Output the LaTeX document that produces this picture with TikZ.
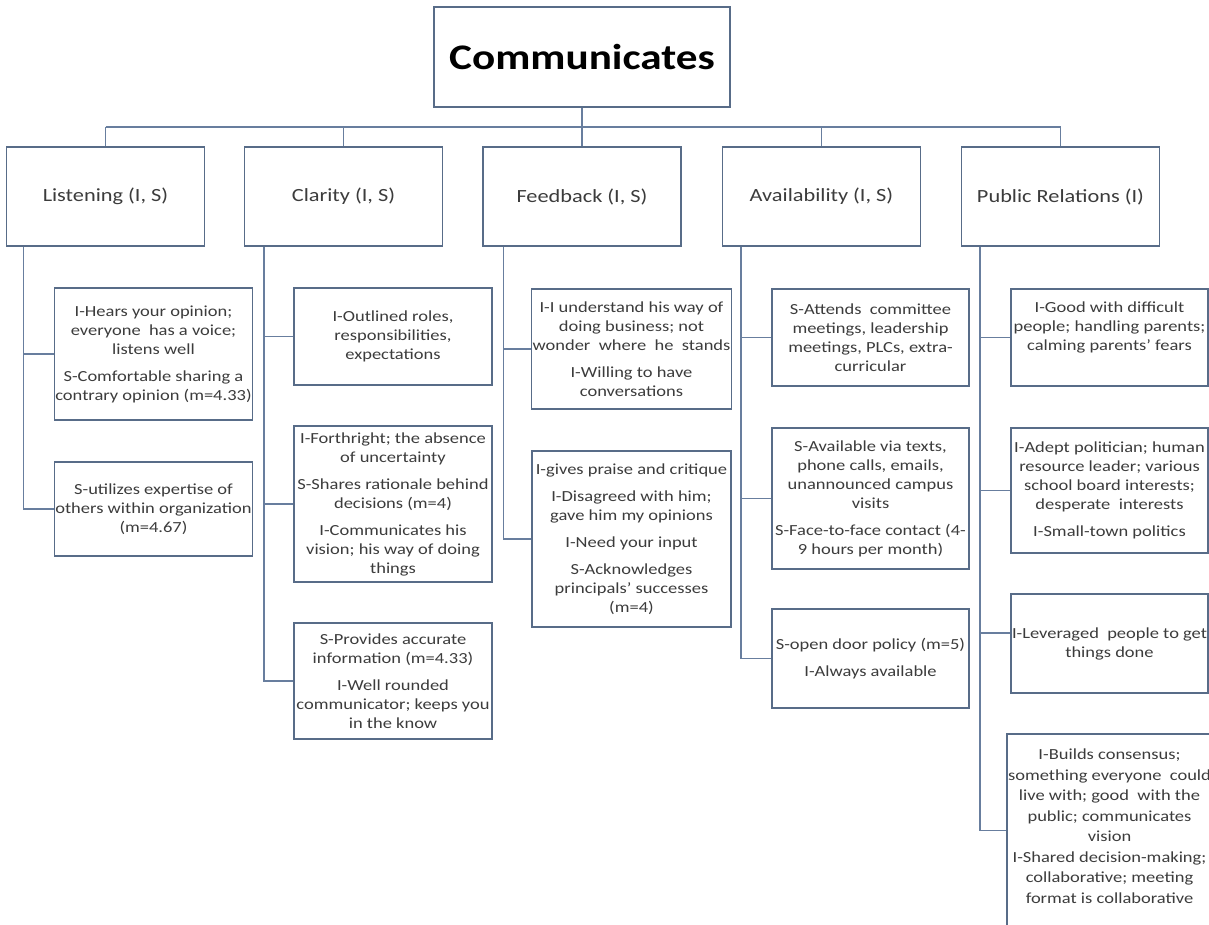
\documentclass[tikz,border=0pt]{standalone}
\usepackage{fontspec}
\setmainfont{Carlito}[FakeStretch=1.2]
\usetikzlibrary{calc}

\definecolor{boxc}{RGB}{88,108,136}
\definecolor{connc}{RGB}{104,126,158}
\definecolor{textc}{RGB}{60,60,60}

\tikzset{
  box/.style={draw=boxc, fill=white, line width=1.3bp, inner sep=1bp, align=center,
    text=textc, font=\fontsize{15.4bp}{19bp}\selectfont},
  topbox/.style={box, minimum width=198bp, minimum height=99bp,
    font=\fontsize{18.6bp}{22bp}\selectfont},
  rootbox/.style={box, minimum width=296bp, minimum height=100bp, text=black,
    font=\fontsize{36bp}{40bp}\selectfont\bfseries},
  conn/.style={draw=connc, line width=1.3bp},
  bus/.style={draw=connc, line width=2.6bp},
}
\newcommand{\pgap}{\\[8bp]}

\begin{document}
\begin{tikzpicture}[x=1bp, y=-1bp]
\fill[white] (0,0) rectangle (1209,925);
\useasboundingbox (0,0) rectangle (1209,925);

% root and category boxes
\node[rootbox] (root) at (582,57) {Communicates};
\node[topbox] (lis) at (105.5,196.5) {Listening (I, S)};
\node[topbox] (cla) at (343.5,196.5) {Clarity (I, S)};
\node[topbox] (fee) at (582,196.5) {Feedback (I, S)};
\node[topbox] (ava) at (821.5,196.5) {Availability (I, S)};
\node[topbox] (pub) at (1060.5,196.5) {Public Relations (I)};

% bus from the root to the categories
\coordinate (busy) at (582,127);
\draw[conn] (root.south) -- (busy);
\draw[bus] (lis.north |- busy) -- (pub.north |- busy);
\foreach \n in {lis,cla,fee,ava,pub}
  \draw[conn] (\n.north |- busy) -- (\n.north);

% Listening
\node[box, minimum width=197bp, minimum height=132bp] (lis1) at (153.5,354)
  {I-Hears your opinion;\\ everyone\ \ has a voice;\\ listens well\pgap
   S-Comfortable sharing a\\ contrary opinion (m=4.33)};
\node[box, minimum width=197bp, minimum height=94bp] (lis2) at (153.5,509)
  {S-utilizes expertise of\\ others within organization\\ (m=4.67)};

% Clarity
\node[box, minimum width=198bp, minimum height=97bp] (cla1) at (393,336.5)
  {I-Outlined roles,\\ responsibilities,\\ expectations};
\node[box, minimum width=198bp, minimum height=156bp] (cla2) at (393,504)
  {I-Forthright; the absence\\ of uncertainty\pgap
   S-Shares rationale behind\\ decisions (m=4)\pgap
   I-Communicates his\\ vision; his way of doing\\ things};
\node[box, minimum width=198bp, minimum height=116bp] (cla3) at (393,681)
  {S-Provides accurate\\ information (m=4.33)\pgap
   I-Well rounded\\ communicator; keeps you\\ in the know};

% Feedback
\node[box, minimum width=199bp, minimum height=120bp] (fee1) at (631.5,349)
  {I-I understand his way of\\ doing business; not\\ wonder\ \ where\ \ he\ \ stands\pgap
   I-Willing to have\\ conversations};
\node[box, minimum width=199bp, minimum height=176bp] (fee2) at (631.5,539)
  {I-gives praise and critique\pgap
   I-Disagreed with him;\\ gave him my opinions\pgap
   I-Need your input\pgap
   S-Acknowledges\\ principals’ successes\\ (m=4)};

% Availability
\node[box, minimum width=197bp, minimum height=97bp] (ava1) at (870.5,337.5)
  {S-Attends\ \ committee\\ meetings, leadership\\ meetings, PLCs, extra-\\ curricular};
\node[box, minimum width=197bp, minimum height=141bp] (ava2) at (870.5,498.5)
  {S-Available via texts,\\ phone calls, emails,\\ unannounced campus\\ visits\pgap
   S-Face-to-face contact (4-\\ 9 hours per month)};
\node[box, minimum width=197bp, minimum height=99bp] (ava3) at (870.5,658.5)
  {S-open door policy (m=5)\pgap I-Always available};

% Public Relations
\node[box, minimum width=197bp, minimum height=97bp] (pub1) at (1109.5,337.5)
  {I-Good with difficult\\ people; handling parents;\\ calming parents’ fears\\[3bp]\mbox{}};
\node[box, minimum width=197bp, minimum height=125bp] (pub2) at (1109.5,490.5)
  {I-Adept politician; human\\ resource leader; various\\ school board interests;\\ desperate\ \ interests\pgap
   I-Small-town politics};
\node[box, minimum width=197bp, minimum height=99bp] (pub3) at (1109.5,643.5)
  {I-Leveraged\ \ people to get\\ things done};
\node[box, minimum width=197bp, minimum height=193bp] (pub4) at (1109.5,830.5)
  {I-Builds consensus;\\[1.5bp] something everyone\ \ could\\[1.5bp] live with; good\ \ with the\\[1.5bp]
   public; communicates\\[1.5bp] vision\\[1.5bp] I-Shared decision-making;\\[1.5bp]
   collaborative; meeting\\[1.5bp] format is collaborative\\[-10bp]\mbox{}};

% branch connectors
\coordinate (lisv) at ($(lis.south west)+(18,0)$);
\coordinate (clav) at ($(cla.south west)+(20,0)$);
\coordinate (feev) at ($(fee.south west)+(21,0)$);
\coordinate (avav) at ($(ava.south west)+(19,0)$);
\coordinate (pubv) at ($(pub.south west)+(19,0)$);

\foreach \c in {lis1,lis2} \draw[conn] (lisv) |- (\c.west);
\foreach \c in {cla1,cla2,cla3} \draw[conn] (clav) |- (\c.west);
\foreach \c in {fee1,fee2} \draw[conn] (feev) |- (\c.west);
\foreach \c in {ava1,ava2,ava3} \draw[conn] (avav) |- (\c.west);
\foreach \c in {pub1,pub2} \draw[conn] (pubv) |- (\c.west);
\draw[conn] (pubv) |- ($(pub3.west)+(0,-10.5)$);
\draw[conn] (pubv) |- (pub4.west);
\end{tikzpicture}
\end{document}
